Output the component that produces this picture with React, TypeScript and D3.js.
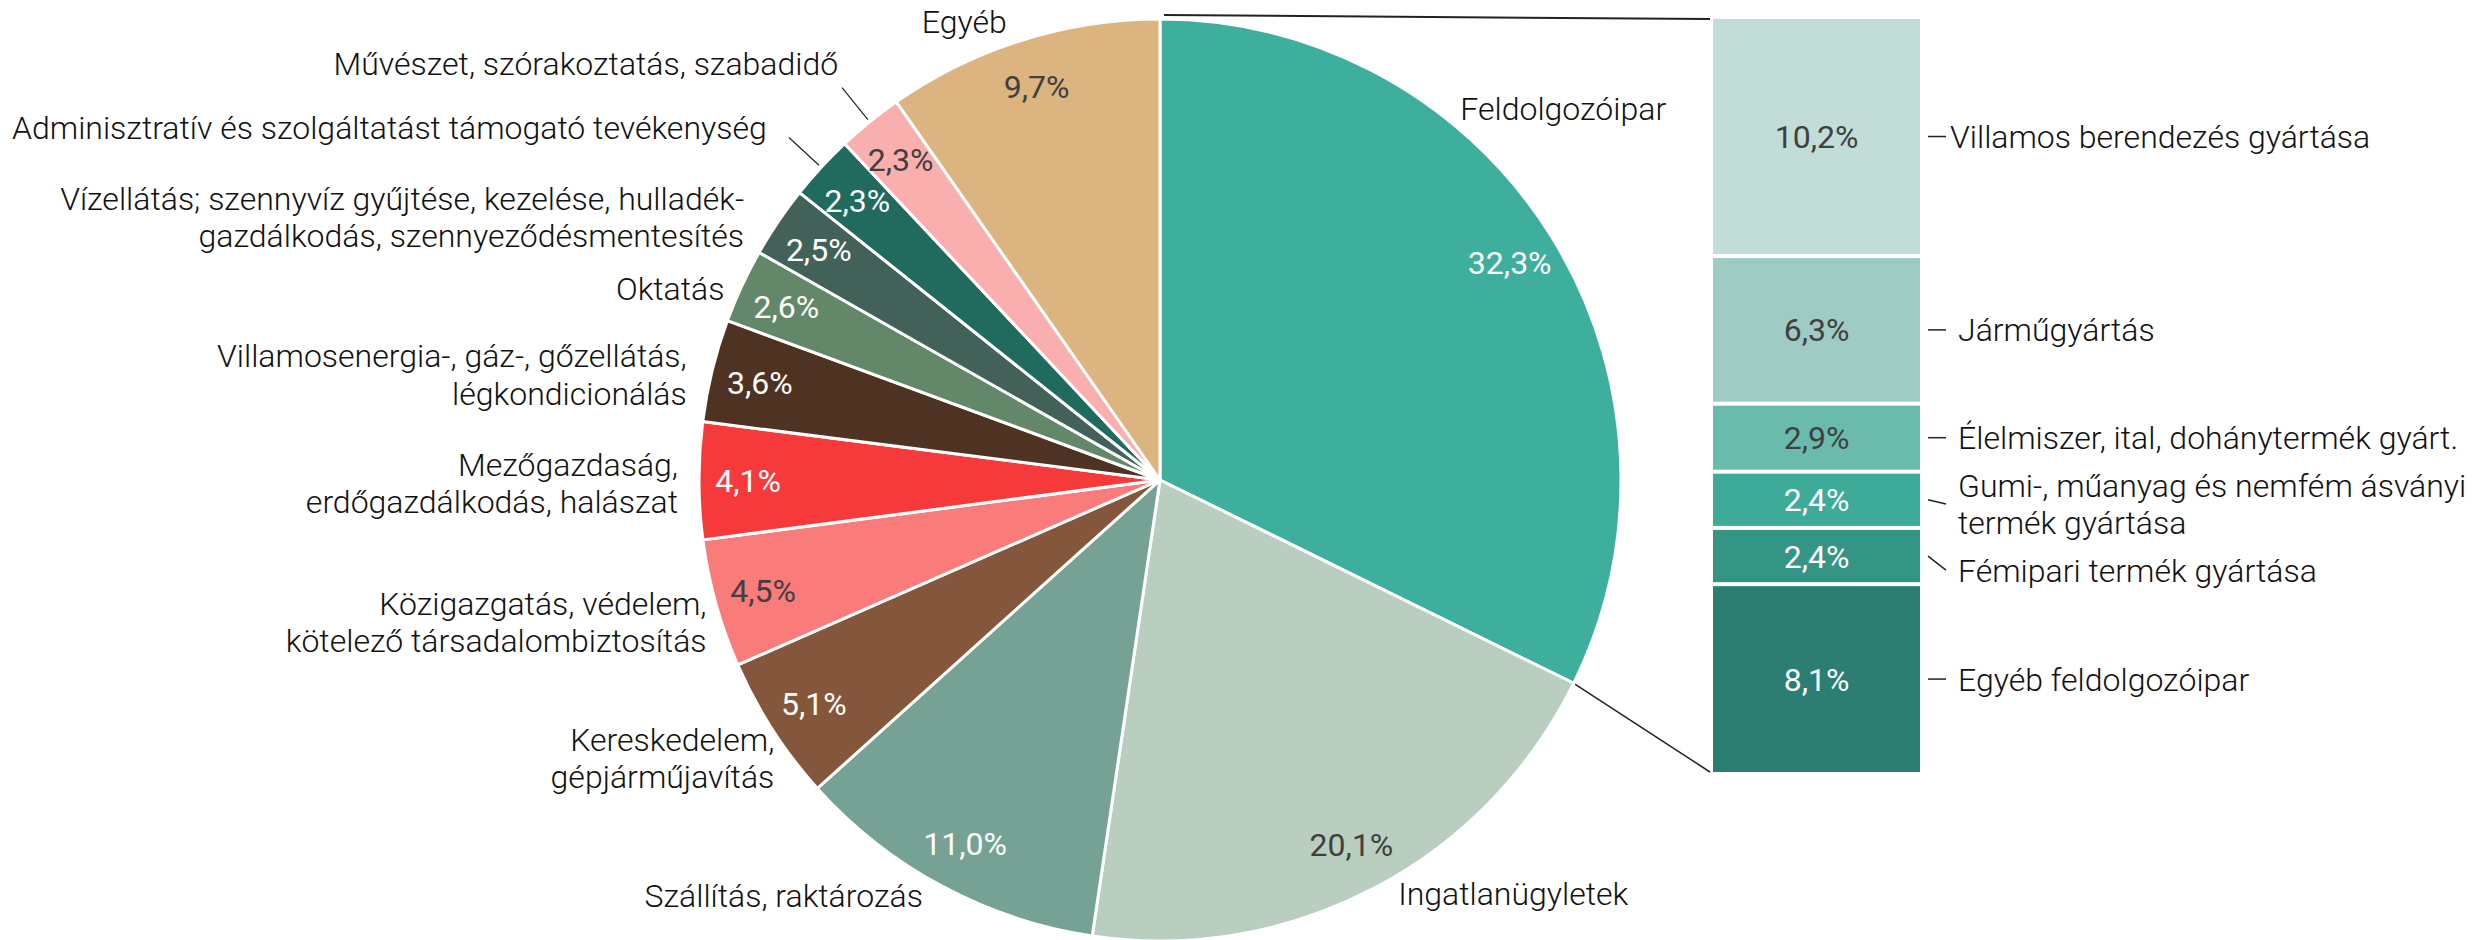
import React from "react";
import * as d3 from "d3";

const sectorNames = [
  "Feldolgozóipar",
  "Ingatlanügyletek",
  "Szállítás, raktározás",
  "Kereskedelem, gépjárműjavítás",
  "Közigazgatás, védelem, kötelező társadalombiztosítás",
  "Mezőgazdaság, erdőgazdálkodás, halászat",
  "Villamosenergia-, gáz-, gőzellátás, légkondicionálás",
  "Oktatás",
  "Vízellátás; szennyvíz gyűjtése, kezelése, hulladékgazdálkodás, szennyeződésmentesítés",
  "Adminisztratív és szolgáltatást támogató tevékenység",
  "Művészet, szórakoztatás, szabadidő",
  "Egyéb",
];
const sectorLabelLines = [
  ["Feldolgozóipar"],
  ["Ingatlanügyletek"],
  ["Szállítás, raktározás"],
  ["Kereskedelem,", "gépjárműjavítás"],
  ["Közigazgatás, védelem,", "kötelező társadalombiztosítás"],
  ["Mezőgazdaság,", "erdőgazdálkodás, halászat"],
  ["Villamosenergia-, gáz-, gőzellátás,", "légkondicionálás"],
  ["Oktatás"],
  ["Vízellátás; szennyvíz gyűjtése, kezelése, hulladék-", "gazdálkodás, szennyeződésmentesítés"],
  ["Adminisztratív és szolgáltatást támogató tevékenység"],
  ["Művészet, szórakoztatás, szabadidő"],
  ["Egyéb"],
];
const sectorValues = [32.3, 20.1, 11.0, 5.1, 4.5, 4.1, 3.6, 2.6, 2.5, 2.3, 2.3, 9.7];
const sectorColors = [
  "#3eaf9d", "#b9cebf", "#76a295", "#84573d", "#f97c7b", "#f63a3b",
  "#4e3322", "#628869", "#426259", "#216a5e", "#faafaf", "#dbb47f",
];
const sectorPctDark = [false, true, false, false, true, false, false, false, false, false, true, true];
// which outer labels use a leader line
const sectorHasLeader = [false, false, false, false, false, false, false, false, false, true, true, false];
// layout nudges for outer labels (px)
const labelNudge: [number, number][] = [
  [0, 0], [16, -10], [-11, -6], [16, 19], [7, 14], [-4, 2],
  [-9, 8], [-2, 10], [-20, 5], [-6, 5], [10, -7], [-10, -2],
];

const subNames = [
  ["Villamos berendezés gyártása"],
  ["Járműgyártás"],
  ["Élelmiszer, ital, dohánytermék gyárt."],
  ["Gumi-, műanyag és nemfém ásványi", "termék gyártása"],
  ["Fémipari termék gyártása"],
  ["Egyéb feldolgozóipar"],
];
const subValues = [10.2, 6.3, 2.9, 2.4, 2.4, 8.1];
const subColors = ["#c2ddd7", "#9ecbc3", "#6bbbad", "#3eab99", "#359585", "#2b7e71"];
const subPctDark = [true, true, true, false, false, false];

const W = 2488;
const H = 940;
const fmt = (v: number) => v.toFixed(1).replace(".", ",") + "%";

export default function App() {
  const cx = 1160;
  const cy = 480;
  const R = 461;
  const pctR = 412;
  const labelR = 478;
  const leaderLabelR = 527;
  const FONT = "Roboto, 'Noto Sans', sans-serif";
  const fs = 32;
  const lh = 37.5;

  const pie = d3.pie<number>().sort(null).value((d) => d);
  const arcs = pie(sectorValues);
  const arcGen = d3.arc<d3.PieArcDatum<number>>().innerRadius(0).outerRadius(R);

  const pt = (a: number, r: number) => [cx + r * Math.sin(a), cy - r * Math.cos(a)];

  // bar
  const barX0 = 1713;
  const barX1 = 1920;
  const total = d3.sum(subValues);
  const y = d3.scaleLinear().domain([0, total]).range([17, 774]);
  const cum = d3.cumsum(subValues);
  const bars = subValues.map((v, i) => {
    const s = i === 0 ? 0 : cum[i - 1];
    const e = cum[i];
    return { v, y0: y(s) + 2, y1: y(e) - 2, c: (y(s) + y(e)) / 2 };
  });
  // label layout with collision avoidance
  const pad = 10;
  const subLabelCenters: number[] = [];
  let prevBottom = -Infinity;
  bars.forEach((b, i) => {
    const h = subNames[i].length * lh;
    let c = b.c;
    if (c - h / 2 < prevBottom + pad) c = prevBottom + pad + h / 2;
    subLabelCenters.push(c);
    prevBottom = c + h / 2;
  });

  const feld = arcs[0];
  const [topX, topY] = pt(feld.startAngle, R);
  const [botX, botY] = pt(feld.endAngle, R);

  return (
    <svg
      width={W}
      height={H}
      style={{ position: "absolute", left: 0, top: 0, background: "#fff" }}
      fontFamily={FONT}
    >
      {/* connector lines */}
      <line x1={topX + 4} y1={topY - 4} x2={barX0 - 3} y2={bars[0].y0} stroke="#222" strokeWidth={2} />
      <line x1={botX} y1={botY} x2={barX0 - 3} y2={bars[bars.length - 1].y1} stroke="#222" strokeWidth={1.5} />

      {/* pie slices */}
      <g transform={`translate(${cx},${cy})`}>
        {arcs.map((a, i) => (
          <path key={i} d={arcGen(a) || ""} fill={sectorColors[i]} stroke="#fff" strokeWidth={3} strokeLinejoin="round" />
        ))}
      </g>

      {/* percent labels in pie */}
      {arcs.map((a, i) => {
        const m = (a.startAngle + a.endAngle) / 2;
        const [x, yy] = pt(m, pctR);
        return (
          <text key={i} x={x} y={yy} dy="0.36em" textAnchor="middle" fontSize={fs} fontWeight={400}
            fill={sectorPctDark[i] ? "#404040" : "#ffffff"}>
            {fmt(sectorValues[i])}
          </text>
        );
      })}

      {/* outer labels */}
      {arcs.map((a, i) => {
        let m = (a.startAngle + a.endAngle) / 2;
        if (i === 0) m = (a.startAngle + a.endAngle) * 0.335; // shift away from the connector
        const lr = sectorHasLeader[i] ? leaderLabelR : labelR;
        const [px, py] = pt(m, lr);
        const x = px + labelNudge[i][0];
        const yy = py + labelNudge[i][1];
        const right = Math.sin(m) > 0;
        const lines = sectorLabelLines[i];
        const y0 = yy - ((lines.length - 1) * lh) / 2;
        const leader = sectorHasLeader[i]
          ? (() => {
              const mm = (a.startAngle + a.endAngle) / 2;
              const [x1, y1] = pt(mm, R + 3);
              const [x2, y2] = pt(mm, 505);
              return <line x1={x1} y1={y1} x2={x2} y2={y2} stroke="#222" strokeWidth={1.2} />;
            })()
          : null;
        return (
          <g key={i}>
            {leader}
            <text textAnchor={right ? "start" : "end"} fontSize={fs} fontWeight={300} fill="#111">
              {lines.map((l, j) => (
                <tspan key={j} x={x} y={y0 + j * lh} dy="0.36em">{l}</tspan>
              ))}
            </text>
          </g>
        );
      })}

      {/* breakdown bar */}
      {bars.map((b, i) => (
        <g key={i}>
          <rect x={barX0} y={b.y0} width={barX1 - barX0} height={b.y1 - b.y0} fill={subColors[i]} />
          <text x={(barX0 + barX1) / 2} y={b.c} dy="0.36em" textAnchor="middle" fontSize={fs} fontWeight={400}
            fill={subPctDark[i] ? "#404040" : "#ffffff"}>
            {fmt(b.v)}
          </text>
          <line x1={barX1 + 8} y1={b.c} x2={barX1 + 26} y2={subLabelCenters[i]} stroke="#222" strokeWidth={1.5} />
          <text fontSize={fs} fontWeight={300} fill="#111">
            {subNames[i].map((l, j) => (
              <tspan key={j} x={barX1 + (i === 0 ? 30 : 38)} y={subLabelCenters[i] - ((subNames[i].length - 1) * lh) / 2 + j * lh} dy="0.36em">
                {l}
              </tspan>
            ))}
          </text>
        </g>
      ))}
    </svg>
  );
}
